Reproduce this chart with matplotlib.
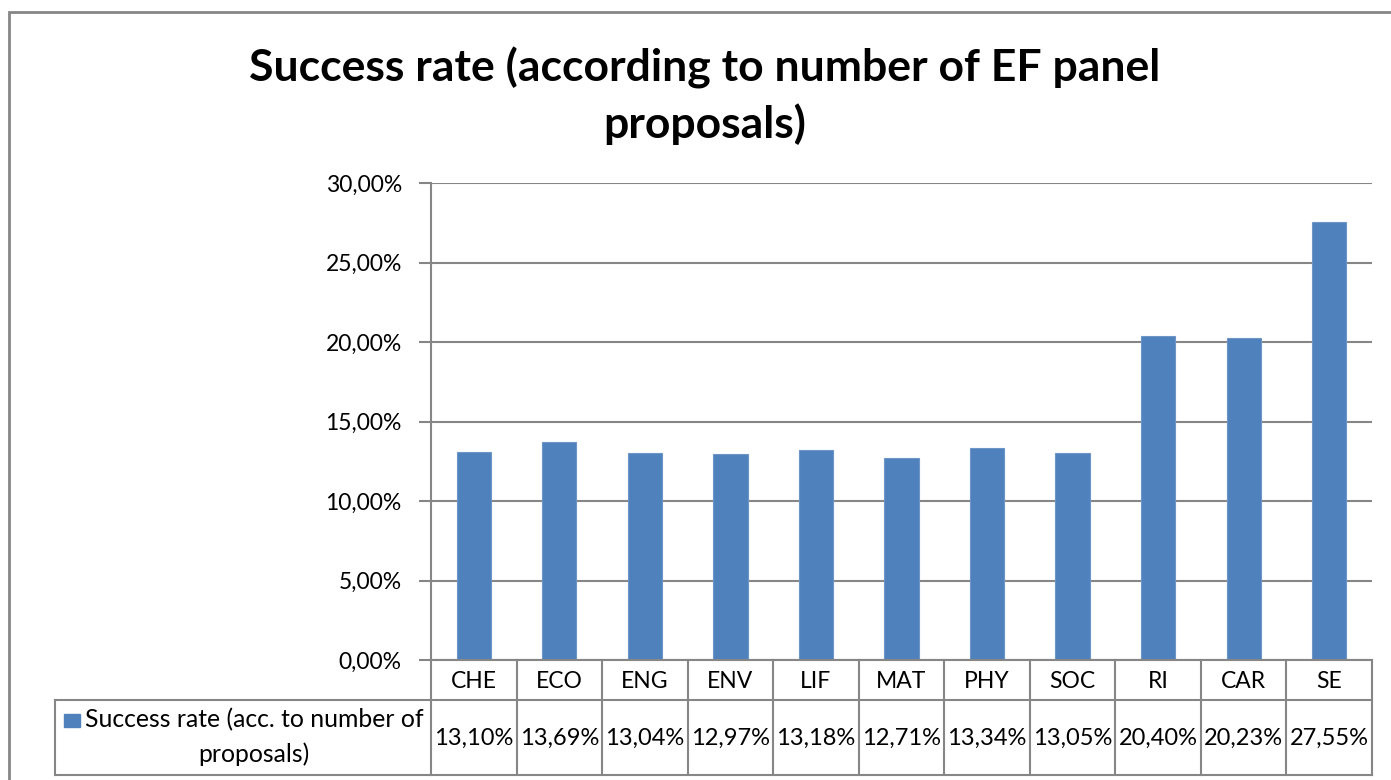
import matplotlib
matplotlib.use("Agg")
import matplotlib.pyplot as plt
from matplotlib.patches import Rectangle
from matplotlib.lines import Line2D
from matplotlib.transforms import blended_transform_factory

categories = ["CHE", "ECO", "ENG", "ENV", "LIF", "MAT", "PHY", "SOC", "RI", "CAR", "SE"]
values = [13.10, 13.69, 13.04, 12.97, 13.18, 12.71, 13.34, 13.05, 20.40, 20.23, 27.55]
yticks = [0, 5, 10, 15, 20, 25, 30]
title = "Success rate (according to number of EF panel\nproposals)"
series_name = "Success rate (acc. to number of\nproposals)"

plt.rcParams['font.family'] = ['Lato', 'DejaVu Sans']

W, H = 1391, 780
fig = plt.figure(figsize=(W / 100, H / 100), dpi=100)

def fx(px):
    return px / W

def fy(py):
    return 1 - py / H

ax_l, ax_r, ax_t, ax_b = 431, 1372, 183, 660
ax = fig.add_axes([fx(ax_l), fy(ax_b), fx(ax_r - ax_l), fy(ax_t) - fy(ax_b)])

bar_color = "#4F81BD"
grid_color = "#868686"
x = list(range(len(categories)))
ax.bar(x, values, width=0.4, color=bar_color, edgecolor="#6D95C8", linewidth=0.8, zorder=3)
ax.set_xlim(-0.5, len(categories) - 0.5)
ax.set_ylim(0, 30)
ax.set_yticks(yticks)
ax.set_yticklabels([f"{v:.2f}".replace(".", ",") + "%" for v in yticks], fontsize=16.5)
ax.tick_params(axis='y', length=9, width=1.5, color=grid_color, pad=12)
ax.set_xticks([])
for s in ["top", "right", "bottom"]:
    ax.spines[s].set_visible(False)
ax.spines["left"].set_color(grid_color)
ax.spines["left"].set_linewidth(1.5)
ax.yaxis.grid(True, color=grid_color, linewidth=1.5, zorder=0)
ax.set_axisbelow(True)

# data table below the axes
tr = blended_transform_factory(ax.transData, fig.transFigure)
y_head_top, y_head_bot, y_row_bot = 660, 700, 775
line_kw = dict(color=grid_color, linewidth=1.5, clip_on=False)

n = len(categories)
fig.add_artist(Line2D([fx(ax_l), fx(ax_r)], [fy(y_head_top)] * 2, **line_kw))
fig.add_artist(Line2D([fx(55), fx(ax_r)], [fy(y_head_bot)] * 2, **line_kw))
fig.add_artist(Line2D([fx(55), fx(ax_r)], [fy(y_row_bot)] * 2, **line_kw))
for i in range(n + 1):
    xv = i - 0.5
    fig.add_artist(Line2D([xv, xv], [fy(y_head_top), fy(y_row_bot)], transform=tr, **line_kw))
fig.add_artist(Line2D([fx(55), fx(55)], [fy(y_head_bot), fy(y_row_bot)], **line_kw))

for i, (c, v) in enumerate(zip(categories, values)):
    fig.text(i, fy(681), c, transform=tr, ha="center", va="center", fontsize=16.5)
    fig.text(i, fy(738), f"{v:.2f}".replace(".", ",") + "%", transform=tr,
             ha="center", va="center", fontsize=17)

# legend cell
fig.add_artist(Rectangle((fx(64), fy(727)), fx(16), fy(714) - fy(727), color=bar_color))
fig.text(fx(254), fy(720), series_name.split("\n")[0], ha="center", va="center", fontsize=17.8)
fig.text(fx(254), fy(754), series_name.split("\n")[1], ha="center", va="center", fontsize=17.8)

# title
fig.text(fx(705), fy(96), title, ha="center", va="center", fontsize=32, fontweight="bold",
         linespacing=1.4)

# chart frame
fig.add_artist(Rectangle((fx(9), fy(H + 20)), fx(W + 20), fy(12) - fy(H + 20),
                         fill=False, edgecolor=grid_color, linewidth=2, clip_on=False))

fig.savefig("out.png", dpi=100)
